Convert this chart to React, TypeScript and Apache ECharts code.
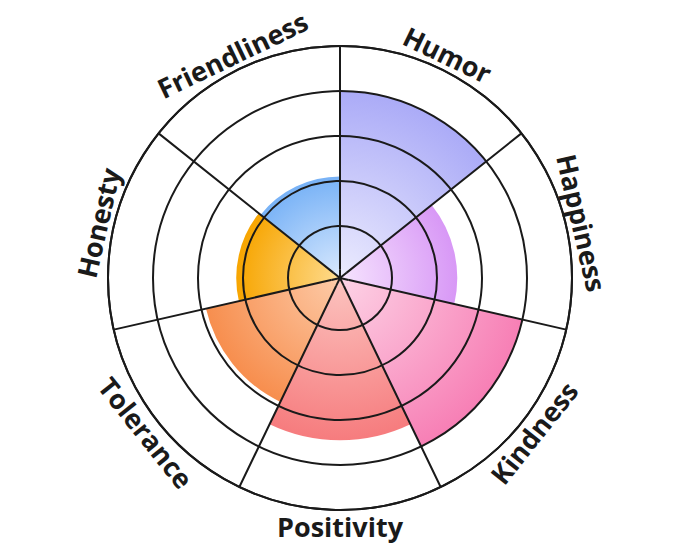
import React, { useEffect, useRef } from "react";
import * as echarts from "echarts";

const categories = ["Humor", "Happiness", "Kindness", "Positivity", "Tolerance", "Honesty", "Friendliness"];
const values = [4, 2.45, 4, 3.45, 2.9, 2.15, 2.1];
const innerColors = ["#ececfe", "#f6e4fe", "#fdd3e6", "#fcc4c0", "#fdcba8", "#fedb8e", "#d9e9fe"];
const outerColors = ["#ababf7", "#d898f6", "#f77fb5", "#f67c7e", "#f78e4e", "#f7a500", "#78b2f6"];

const CX = 340;
const CY = 278;
const R0 = 7;
const R1 = 232;
const MAX = 5;
const LABEL_R = 248;

export default function App() {
  const ref = useRef<HTMLDivElement>(null);
  useEffect(() => {
    if (!ref.current) return;
    const chart = echarts.init(ref.current, undefined, { renderer: "svg" });
    const n = categories.length;
    const step = 360 / n;
    const data = values.map((v, i) => {
      const rr = R0 + ((R1 - R0) * v) / MAX;
      return {
        value: v,
        itemStyle: {
          color: new echarts.graphic.RadialGradient(
            CX,
            CY,
            rr,
            [
              { offset: 0, color: innerColors[i] },
              { offset: 1, color: outerColors[i] },
            ],
            true
          ),
        },
      };
    });
    const labels: any[] = categories.map((c, i) => {
      const a = (i + 0.5) * step; // clockwise from top, degrees
      const rad = (a * Math.PI) / 180;
      const x = CX + LABEL_R * Math.sin(rad);
      const y = CY - LABEL_R * Math.cos(rad);
      const bottom = a > 100 && a < 260;
      const rotDeg = bottom ? a - 180 : a;
      return {
        type: "text",
        x,
        y,
        rotation: (-rotDeg * Math.PI) / 180,
        style: {
          text: c,
          fill: "#1a1a1a",
          font: "bold 27px 'Open Sans', sans-serif",
          align: "center",
          verticalAlign: "middle",
        },
        z: 20,
      };
    });
    // centre hub: fill the small inner hole and let the spokes meet at the centre
    const HUB = R0 + 1.8;
    const hubChildren: any[] = [];
    categories.forEach((_, i) => {
      hubChildren.push({
        type: "sector",
        shape: {
          cx: CX,
          cy: CY,
          r0: 0,
          r: HUB,
          startAngle: ((i * step - 90) * Math.PI) / 180,
          endAngle: (((i + 1) * step - 90) * Math.PI) / 180,
          clockwise: true,
        },
        style: { fill: innerColors[i] },
        z: 30,
      });
    });
    categories.forEach((_, i) => {
      const rad = (i * step * Math.PI) / 180;
      hubChildren.push({
        type: "line",
        shape: {
          x1: CX,
          y1: CY,
          x2: CX + HUB * Math.sin(rad),
          y2: CY - HUB * Math.cos(rad),
        },
        style: { stroke: "#1a1a1a", lineWidth: 2 },
        z: 31,
      });
    });
    hubChildren.push({
      type: "circle",
      shape: { cx: CX, cy: CY, r: 2 },
      style: { fill: "#1a1a1a" },
      z: 32,
    });
    chart.setOption({
      animation: false,
      polar: { center: [CX, CY], radius: [R0, R1] },
      angleAxis: {
        type: "category",
        data: categories,
        startAngle: 90,
        clockwise: true,
        boundaryGap: true,
        z: 10,
        axisLine: { show: true, lineStyle: { color: "#1a1a1a", width: 2 } },
        axisTick: { show: false },
        axisLabel: { show: false },
        splitLine: { show: true, lineStyle: { color: "#1a1a1a", width: 2 } },
      },
      radiusAxis: {
        type: "value",
        min: 0,
        max: MAX,
        interval: 1,
        z: 10,
        axisLine: { show: false },
        axisTick: { show: false },
        axisLabel: { show: false },
        splitLine: { show: true, lineStyle: { color: "#1a1a1a", width: 2 } },
      },
      series: [
        {
          type: "bar",
          coordinateSystem: "polar",
          data,
          barCategoryGap: "0%",
          z: 1,
        },
      ],
      graphic: [...labels, { type: "group", children: hubChildren, z: 30 }],
    });
    return () => chart.dispose();
  }, []);
  return (
    <div
      ref={ref}
      style={{ position: "fixed", left: 0, top: 0, width: 680, height: 557, background: "#fff" }}
    />
  );
}
